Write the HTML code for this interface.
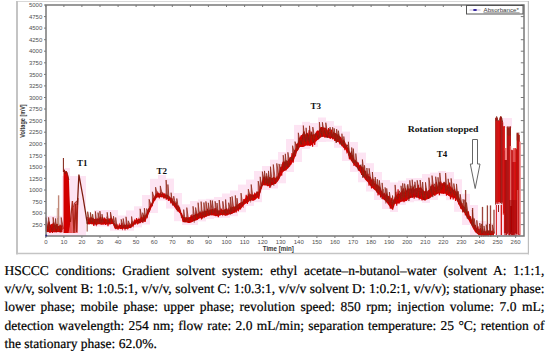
<!DOCTYPE html>
<html><head><meta charset="utf-8"><style>
html,body{margin:0;padding:0;background:#fff;width:550px;height:356px;overflow:hidden}
svg{position:absolute;left:0;top:0}
.al{font-family:"Liberation Sans",sans-serif;font-size:6px;fill:#505050}
.an{font-family:"Liberation Serif",serif;font-size:9px;font-weight:bold;fill:#111}
.ln{white-space:nowrap;text-align:justify;text-align-last:justify;height:18.2px}
.lst{text-align:left;text-align-last:left}
.cap{position:absolute;left:4.4px;top:262px;width:540px;font-family:"Liberation Serif",serif;font-size:13.5px;line-height:18.2px;color:#000;text-align:justify;text-rendering:geometricPrecision;-webkit-text-stroke:0.2px #000}
</style></head><body>
<svg width="550" height="258" viewBox="0 0 550 258">
<defs><filter id="bl" x="0" y="0" width="550" height="258" filterUnits="userSpaceOnUse"><feGaussianBlur stdDeviation="0.3"/></filter></defs>
<line x1="16" y1="1.5" x2="529" y2="1.5" stroke="#d8d8d8" stroke-width="1"/>
<line x1="17" y1="1" x2="17" y2="255" stroke="#c4c4c4" stroke-width="2"/>
<line x1="528.4" y1="1" x2="528.4" y2="255" stroke="#bdbdbd" stroke-width="1.2"/>
<line x1="16" y1="253.4" x2="529" y2="253.4" stroke="#c4c4c4" stroke-width="1.3"/>
<line x1="16" y1="254.6" x2="529" y2="254.6" stroke="#ebebeb" stroke-width="0.8"/>
<g filter="url(#bl)"><g fill="#fde4f3"><rect x="46" y="216.0" width="8" height="18.3"/><rect x="54" y="216.0" width="8" height="18.3"/><rect x="94" y="210.0" width="8" height="16.5"/><rect x="102" y="210.0" width="8" height="16.5"/><rect x="110" y="210.0" width="8" height="20.7"/><rect x="118" y="215.5" width="8" height="15.2"/><rect x="126" y="210.4" width="8" height="20.3"/><rect x="134" y="206.3" width="8" height="21.1"/><rect x="142" y="195.0" width="8" height="29.5"/><rect x="150" y="178.8" width="8" height="34.2"/><rect x="158" y="175.0" width="8" height="25.6"/><rect x="166" y="178.6" width="8" height="30.0"/><rect x="174" y="193.0" width="8" height="28.2"/><rect x="182" y="204.3" width="8" height="20.7"/><rect x="190" y="201.0" width="8" height="24.0"/><rect x="198" y="199.5" width="8" height="21.9"/><rect x="206" y="198.8" width="8" height="20.2"/><rect x="214" y="197.0" width="8" height="21.0"/><rect x="222" y="193.5" width="8" height="24.3"/><rect x="230" y="190.5" width="8" height="25.7"/><rect x="238" y="184.6" width="8" height="27.7"/><rect x="246" y="179.6" width="8" height="26.3"/><rect x="254" y="171.0" width="8" height="31.2"/><rect x="262" y="166.0" width="8" height="24.0"/><rect x="270" y="159.7" width="8" height="28.8"/><rect x="278" y="152.0" width="8" height="31.3"/><rect x="286" y="139.0" width="8" height="33.0"/><rect x="294" y="124.9" width="8" height="37.1"/><rect x="302" y="121.8" width="8" height="27.1"/><rect x="310" y="123.0" width="8" height="23.9"/><rect x="318" y="117.5" width="8" height="24.5"/><rect x="326" y="121.1" width="8" height="20.6"/><rect x="334" y="125.7" width="8" height="22.1"/><rect x="342" y="131.6" width="8" height="29.4"/><rect x="350" y="142.0" width="8" height="29.9"/><rect x="358" y="152.6" width="8" height="29.7"/><rect x="366" y="163.2" width="8" height="28.3"/><rect x="374" y="172.0" width="8" height="28.0"/><rect x="382" y="180.0" width="8" height="29.0"/><rect x="390" y="182.4" width="8" height="29.6"/><rect x="398" y="180.6" width="8" height="24.3"/><rect x="406" y="178.2" width="8" height="24.1"/><rect x="414" y="178.0" width="8" height="23.2"/><rect x="422" y="174.0" width="8" height="28.9"/><rect x="430" y="172.6" width="8" height="27.4"/><rect x="438" y="171.0" width="8" height="25.2"/><rect x="446" y="172.0" width="8" height="28.2"/><rect x="454" y="179.3" width="8" height="32.5"/><rect x="462" y="193.8" width="8" height="31.2"/><rect x="470" y="205.0" width="8" height="31.0"/><rect x="478" y="221.0" width="8" height="15.0"/><rect x="486" y="223.0" width="8" height="13.0"/></g>
<rect x="48" y="215.8" width="15" height="20.2" fill="#fde4f3"/>
<rect x="62" y="176" width="24" height="60" fill="#fde4f3"/>
<rect x="64" y="168" width="6" height="10" fill="#fde4f3"/>
<polygon points="46.0,226.4 46.5,226.7 47.0,225.8 47.5,225.4 48.0,225.4 48.5,225.3 49.0,225.3 49.5,225.4 50.0,225.4 50.5,224.5 51.0,224.4 51.5,224.0 52.0,223.8 52.5,223.5 53.0,223.6 53.5,224.0 54.0,224.3 54.5,224.5 55.0,225.2 55.5,225.0 56.0,224.6 56.5,223.8 57.0,223.6 57.5,223.7 58.0,223.8 58.5,223.3 59.0,224.4 59.5,225.5 60.0,224.8 60.5,225.7 61.0,226.1 61.5,225.7 62.0,224.9 62.5,225.7 62.5,232.1 62.0,232.4 61.5,232.2 61.0,232.4 60.5,232.3 60.0,232.1 59.5,232.2 59.0,232.2 58.5,232.0 58.0,232.3 57.5,232.1 57.0,232.3 56.5,232.5 56.0,232.4 55.5,232.3 55.0,232.3 54.5,232.4 54.0,232.3 53.5,231.9 53.0,232.0 52.5,232.2 52.0,232.3 51.5,232.2 51.0,232.2 50.5,232.3 50.0,232.6 49.5,232.4 49.0,232.2 48.5,232.1 48.0,232.0 47.5,232.1 47.0,232.3 46.5,232.1 46.0,232.0" fill="#d20000"/>
<polygon points="87.5,219.1 88.0,218.5 88.5,219.3 89.0,219.5 89.5,219.3 90.0,218.7 90.5,218.5 91.0,217.7 91.5,217.3 92.0,217.7 92.5,218.3 93.0,218.3 93.5,218.3 94.0,219.1 94.5,219.0 95.0,218.4 95.5,218.5 96.0,219.0 96.5,218.8 97.0,218.8 97.5,218.8 98.0,218.6 98.5,218.9 99.0,218.1 99.5,218.2 100.0,218.6 100.5,218.7 101.0,218.5 101.5,219.4 102.0,219.5 102.5,219.4 103.0,219.4 103.5,219.1 104.0,218.4 104.5,218.6 105.0,218.1 105.5,218.4 106.0,219.0 106.5,219.6 107.0,219.8 107.5,219.9 108.0,220.0 108.5,219.7 109.0,219.3 109.5,218.7 110.0,218.6 110.5,218.3 111.0,218.0 111.5,218.5 112.0,219.1 112.5,219.3 113.0,219.7 113.5,221.6 114.0,222.9 114.5,224.5 115.0,224.6 115.5,224.9 116.0,224.9 116.5,225.3 117.0,225.6 117.5,225.6 118.0,225.4 118.5,225.7 119.0,225.4 119.5,225.4 120.0,225.1 120.5,225.0 121.0,225.0 121.5,225.2 122.0,225.0 122.5,225.4 123.0,225.5 123.5,225.4 124.0,224.9 124.5,225.1 125.0,224.7 125.5,224.7 126.0,224.6 126.5,225.1 127.0,225.2 127.5,225.5 128.0,225.3 128.5,225.2 129.0,224.9 129.5,224.8 130.0,224.3 130.5,224.4 131.0,224.4 131.5,223.9 132.0,223.6 132.5,223.6 133.0,223.0 133.5,222.3 134.0,221.5 134.5,221.0 135.0,220.5 135.5,220.1 136.0,219.8 136.5,220.1 137.0,219.9 137.5,219.2 138.0,219.3 138.5,219.1 139.0,219.0 139.5,218.6 140.0,218.9 140.5,218.8 141.0,218.6 141.5,218.5 142.0,218.0 142.5,217.5 143.0,217.1 143.5,216.9 144.0,216.4 144.5,216.7 145.0,216.9 145.5,215.6 146.0,214.4 146.5,213.4 147.0,212.0 147.5,210.6 148.0,209.8 148.5,208.6 149.0,207.5 149.5,206.5 150.0,205.7 150.5,204.6 151.0,203.8 151.5,202.9 152.0,201.9 152.5,201.0 153.0,199.6 153.5,198.3 154.0,196.9 154.5,196.1 155.0,195.0 155.5,195.0 156.0,194.4 156.5,193.6 157.0,193.2 157.5,193.1 158.0,192.9 158.5,192.8 159.0,193.1 159.5,193.2 160.0,193.7 160.5,193.5 161.0,193.8 161.5,193.9 162.0,193.6 162.5,193.2 163.0,193.4 163.5,193.3 164.0,193.6 164.5,194.1 165.0,194.5 165.5,194.7 166.0,195.2 166.5,194.9 167.0,194.6 167.5,194.9 168.0,195.4 168.5,195.2 169.0,196.0 169.5,196.9 170.0,197.1 170.5,197.5 171.0,198.0 171.5,198.3 172.0,198.8 172.5,199.3 173.0,200.3 173.5,201.4 174.0,202.2 174.5,202.1 175.0,203.2 175.5,203.4 176.0,203.6 176.5,204.0 177.0,205.3 177.5,205.5 178.0,206.0 178.5,206.7 179.0,207.2 179.5,207.6 180.0,208.2 180.5,209.5 181.0,211.1 181.5,213.0 182.0,213.8 182.5,215.2 183.0,216.5 183.5,216.8 184.0,216.9 184.5,217.3 185.0,217.2 185.5,217.3 186.0,217.5 186.5,217.1 187.0,217.3 187.5,217.4 188.0,217.8 188.5,217.5 189.0,217.8 189.5,217.4 190.0,217.6 190.5,217.0 191.0,216.7 191.5,216.0 192.0,215.9 192.5,215.4 193.0,215.3 193.5,214.9 194.0,215.0 194.5,215.1 195.0,214.3 195.5,213.8 196.0,213.7 196.5,213.6 197.0,213.6 197.5,213.9 198.0,213.4 198.5,213.5 199.0,212.7 199.5,212.1 200.0,212.0 200.5,212.6 201.0,212.2 201.5,212.6 202.0,212.3 202.5,211.8 203.0,211.9 203.5,211.5 204.0,210.8 204.5,211.1 205.0,210.7 205.5,210.6 206.0,211.0 206.5,211.0 207.0,210.3 207.5,211.0 208.0,210.9 208.5,210.3 209.0,210.2 209.5,210.4 210.0,210.0 210.5,209.3 211.0,209.2 211.5,209.2 212.0,209.4 212.5,209.0 213.0,208.9 213.5,209.6 214.0,209.8 214.5,209.7 215.0,209.7 215.5,210.2 216.0,210.4 216.5,210.7 217.0,210.7 217.5,210.8 218.0,210.9 218.5,210.2 219.0,209.9 219.5,210.2 220.0,210.9 220.5,210.2 221.0,210.3 221.5,210.5 222.0,209.8 222.5,209.7 223.0,210.0 223.5,209.9 224.0,209.6 224.5,209.5 225.0,209.1 225.5,209.1 226.0,209.0 226.5,208.5 227.0,209.0 227.5,209.6 228.0,210.0 228.5,209.8 229.0,209.9 229.5,209.4 230.0,209.0 230.5,208.3 231.0,208.7 231.5,208.4 232.0,207.9 232.5,207.7 233.0,207.1 233.5,206.5 234.0,206.3 234.5,206.8 235.0,206.3 235.5,206.5 236.0,205.8 236.5,205.6 237.0,204.7 237.5,204.7 238.0,204.3 238.5,203.9 239.0,203.4 239.5,203.2 240.0,203.0 240.5,202.3 241.0,202.6 241.5,202.6 242.0,202.1 242.5,201.7 243.0,201.3 243.5,200.2 244.0,199.5 244.5,199.0 245.0,198.6 245.5,198.4 246.0,197.9 246.5,197.5 247.0,196.7 247.5,196.0 248.0,194.9 248.5,194.4 249.0,194.2 249.5,194.6 250.0,193.7 250.5,193.8 251.0,194.7 251.5,194.4 252.0,194.6 252.5,194.5 253.0,195.1 253.5,194.4 254.0,194.0 254.5,193.6 255.0,194.1 255.5,193.3 256.0,192.9 256.5,192.3 257.0,192.3 257.5,191.8 258.0,191.8 258.5,191.4 259.0,191.7 259.5,189.9 260.0,188.3 260.5,186.6 261.0,185.5 261.5,183.5 262.0,181.6 262.5,179.6 263.0,177.7 263.5,177.0 264.0,177.5 264.5,177.8 265.0,178.6 265.5,178.4 266.0,178.8 266.5,178.8 267.0,179.0 267.5,178.6 268.0,179.1 268.5,178.6 269.0,177.7 269.5,177.1 270.0,176.9 270.5,176.9 271.0,177.9 271.5,177.9 272.0,178.1 272.5,178.0 273.0,177.7 273.5,177.1 274.0,177.3 274.5,177.5 275.0,177.3 275.5,178.1 276.0,178.2 276.5,177.9 277.0,177.1 277.5,176.8 278.0,175.4 278.5,175.2 279.0,173.3 279.5,171.9 280.0,170.0 280.5,168.8 281.0,167.1 281.5,165.8 282.0,163.7 282.5,163.1 283.0,162.3 283.5,161.2 284.0,161.3 284.5,162.1 285.0,162.3 285.5,162.2 286.0,162.5 286.5,161.8 287.0,160.9 287.5,160.9 288.0,160.1 288.5,159.3 289.0,159.3 289.5,159.0 290.0,158.4 290.5,158.1 291.0,158.4 291.5,156.8 292.0,155.0 292.5,154.5 293.0,153.8 293.5,152.0 294.0,152.0 294.5,151.8 295.0,150.1 295.5,148.7 296.0,147.5 296.5,145.6 297.0,144.1 297.5,143.0 298.0,142.7 298.5,141.6 299.0,140.8 299.5,138.5 300.0,137.3 300.5,135.5 301.0,135.3 301.5,135.1 302.0,135.1 302.5,134.1 303.0,133.6 303.5,134.4 304.0,133.5 304.5,133.5 305.0,133.7 305.5,134.7 306.0,133.0 306.5,133.3 307.0,132.6 307.5,132.9 308.0,133.7 308.5,134.6 309.0,135.6 309.5,135.8 310.0,134.9 310.5,134.3 311.0,134.1 311.5,133.7 312.0,134.0 312.5,134.7 313.0,134.7 313.5,135.0 314.0,134.3 314.5,134.2 315.0,134.2 315.5,133.1 316.0,131.6 316.5,131.4 317.0,130.6 317.5,130.2 318.0,130.8 318.5,130.7 319.0,130.0 319.5,129.6 320.0,128.5 320.5,127.1 321.0,126.9 321.5,127.1 322.0,126.9 322.5,126.9 323.0,127.9 323.5,127.6 324.0,127.3 324.5,127.5 325.0,128.1 325.5,127.5 326.0,128.2 326.5,128.5 327.0,129.3 327.5,129.8 328.0,131.0 328.5,131.5 329.0,132.2 329.5,132.2 330.0,132.2 330.5,132.3 331.0,132.5 331.5,133.0 332.0,133.3 332.5,133.8 333.0,133.4 333.5,133.9 334.0,133.6 334.5,133.4 335.0,133.0 335.5,133.3 336.0,133.1 336.5,133.7 337.0,134.2 337.5,134.6 338.0,135.6 338.5,136.2 339.0,135.9 339.5,136.0 340.0,136.4 340.5,136.5 341.0,137.3 341.5,138.8 342.0,139.9 342.5,140.5 343.0,141.1 343.5,141.1 344.0,140.9 344.5,140.8 345.0,141.6 345.5,143.0 346.0,144.3 346.5,145.0 347.0,146.5 347.5,147.0 348.0,147.8 348.5,148.4 349.0,150.3 349.5,151.5 350.0,152.4 350.5,152.7 351.0,154.0 351.5,154.2 352.0,154.6 352.5,155.7 353.0,157.0 353.5,157.8 354.0,158.6 354.5,160.0 355.0,160.9 355.5,160.8 356.0,161.2 356.5,161.7 357.0,161.3 357.5,162.3 358.0,162.8 358.5,163.1 359.0,163.7 359.5,165.3 360.0,165.1 360.5,166.0 361.0,166.2 361.5,166.5 362.0,166.7 362.5,167.3 363.0,168.6 363.5,169.1 364.0,169.9 364.5,170.1 365.0,171.5 365.5,172.3 366.0,173.7 366.5,174.7 367.0,175.5 367.5,175.1 368.0,175.8 368.5,176.0 369.0,175.9 369.5,176.3 370.0,176.8 370.5,177.2 371.0,178.3 371.5,179.0 372.0,180.3 372.5,181.1 373.0,181.6 373.5,182.0 374.0,183.1 374.5,183.6 375.0,184.2 375.5,183.9 376.0,184.0 376.5,184.5 377.0,184.2 377.5,184.7 378.0,185.6 378.5,185.6 379.0,185.7 379.5,186.5 380.0,187.1 380.5,188.1 381.0,189.1 381.5,190.4 382.0,191.5 382.5,192.5 383.0,193.0 383.5,193.9 384.0,193.8 384.5,194.3 385.0,194.1 385.5,194.5 386.0,195.1 386.5,195.7 387.0,195.6 387.5,195.8 388.0,195.7 388.5,195.8 389.0,196.5 389.5,197.7 390.0,199.1 390.5,200.0 391.0,201.3 391.5,201.5 392.0,202.1 392.5,201.9 393.0,203.1 393.5,200.5 394.0,199.3 394.5,197.4 395.0,196.3 395.5,196.3 396.0,196.3 396.5,195.6 397.0,194.4 397.5,194.0 398.0,193.9 398.5,193.0 399.0,193.5 399.5,193.9 400.0,193.6 400.5,192.0 401.0,192.0 401.5,190.6 402.0,190.6 402.5,191.2 403.0,192.5 403.5,192.7 404.0,192.8 404.5,191.8 405.0,191.2 405.5,190.4 406.0,190.4 406.5,190.1 407.0,191.2 407.5,190.2 408.0,189.5 408.5,188.6 409.0,188.8 409.5,188.6 410.0,188.3 410.5,188.7 411.0,189.3 411.5,188.6 412.0,187.2 412.5,187.7 413.0,187.9 413.5,187.9 414.0,188.6 414.5,189.0 415.0,188.7 415.5,188.3 416.0,188.5 416.5,188.0 417.0,187.9 417.5,188.3 418.0,189.0 418.5,188.1 419.0,187.7 419.5,187.6 420.0,187.6 420.5,187.3 421.0,187.5 421.5,188.0 422.0,189.0 422.5,189.3 423.0,189.7 423.5,190.8 424.0,190.8 424.5,190.9 425.0,191.4 425.5,191.5 426.0,190.6 426.5,191.6 427.0,191.5 427.5,191.4 428.0,189.9 428.5,190.2 429.0,189.9 429.5,189.3 430.0,187.7 430.5,187.4 431.0,186.3 431.5,184.8 432.0,184.1 432.5,184.7 433.0,184.3 433.5,185.1 434.0,185.9 434.5,186.7 435.0,186.8 435.5,187.5 436.0,187.6 436.5,187.8 437.0,187.3 437.5,187.4 438.0,186.3 438.5,184.8 439.0,183.1 439.5,182.3 440.0,181.1 440.5,181.6 441.0,182.5 441.5,183.5 442.0,183.3 442.5,183.2 443.0,183.3 443.5,182.7 444.0,181.5 444.5,182.4 445.0,182.2 445.5,182.8 446.0,183.4 446.5,185.2 447.0,186.2 447.5,186.0 448.0,186.5 448.5,187.3 449.0,186.5 449.5,185.5 450.0,186.6 450.5,186.3 451.0,186.7 451.5,188.0 452.0,188.8 452.5,188.8 453.0,189.4 453.5,189.7 454.0,189.9 454.5,190.5 455.0,190.8 455.5,191.0 456.0,191.5 456.5,192.4 457.0,192.9 457.5,194.2 458.0,195.3 458.5,196.3 459.0,197.0 459.5,198.4 460.0,199.3 460.5,200.3 461.0,201.4 461.5,202.6 462.0,203.5 462.5,205.1 463.0,205.4 463.5,205.5 464.0,206.5 464.5,206.9 465.0,207.4 465.5,208.6 466.0,209.1 466.5,209.4 467.0,210.8 467.5,211.2 468.0,212.3 468.5,213.2 469.0,214.0 469.5,215.4 470.0,216.4 470.5,217.2 471.0,218.1 471.5,219.0 472.0,219.9 472.5,221.0 473.0,222.0 473.5,222.8 474.0,223.8 474.5,224.5 475.0,225.1 475.5,225.8 476.0,227.3 476.5,228.2 477.0,228.7 477.5,228.9 478.0,229.0 478.5,229.0 479.0,228.9 479.5,229.2 480.0,230.1 480.5,231.0 481.0,230.7 481.5,231.3 482.0,231.3 482.5,231.5 483.0,230.9 483.5,231.4 484.0,231.0 484.5,231.3 485.0,231.5 485.5,231.5 486.0,231.3 486.5,231.2 487.0,230.8 487.5,230.3 488.0,230.6 488.5,230.4 489.0,230.4 489.5,230.4 490.0,230.3 490.5,230.1 491.0,230.7 491.5,231.2 492.0,231.1 492.5,231.0 493.0,231.4 493.5,231.4 494.0,231.3 494.0,235.4 493.5,235.3 493.0,235.0 492.5,235.0 492.0,234.9 491.5,235.0 491.0,235.2 490.5,235.4 490.0,235.4 489.5,235.3 489.0,235.4 488.5,235.8 488.0,235.9 487.5,235.9 487.0,235.8 486.5,236.0 486.0,236.1 485.5,236.2 485.0,236.0 484.5,236.0 484.0,236.0 483.5,235.9 483.0,235.7 482.5,235.8 482.0,235.8 481.5,235.9 481.0,235.7 480.5,235.3 480.0,235.4 479.5,235.1 479.0,235.0 478.5,234.6 478.0,234.5 477.5,234.1 477.0,233.7 476.5,232.9 476.0,232.7 475.5,232.4 475.0,232.2 474.5,231.1 474.0,230.1 473.5,229.2 473.0,228.5 472.5,227.8 472.0,226.5 471.5,225.3 471.0,224.6 470.5,223.8 470.0,222.9 469.5,221.9 469.0,220.8 468.5,220.0 468.0,219.2 467.5,218.4 467.0,217.2 466.5,216.4 466.0,215.4 465.5,214.4 465.0,213.5 464.5,212.7 464.0,212.0 463.5,211.5 463.0,210.9 462.5,210.4 462.0,209.9 461.5,209.5 461.0,208.8 460.5,207.9 460.0,207.0 459.5,205.9 459.0,205.0 458.5,203.8 458.0,202.6 457.5,201.9 457.0,201.0 456.5,200.0 456.0,199.1 455.5,198.8 455.0,198.5 454.5,198.2 454.0,197.8 453.5,197.9 453.0,197.6 452.5,197.5 452.0,197.5 451.5,197.5 451.0,197.2 450.5,196.8 450.0,196.5 449.5,196.5 449.0,196.1 448.5,195.9 448.0,195.5 447.5,195.1 447.0,194.9 446.5,194.7 446.0,194.1 445.5,193.9 445.0,193.3 444.5,193.6 444.0,193.8 443.5,194.0 443.0,193.8 442.5,193.8 442.0,193.7 441.5,193.7 441.0,193.4 440.5,193.4 440.0,193.1 439.5,193.3 439.0,193.6 438.5,193.6 438.0,193.8 437.5,193.9 437.0,194.3 436.5,194.7 436.0,194.7 435.5,194.7 435.0,194.7 434.5,194.9 434.0,195.2 433.5,195.3 433.0,195.4 432.5,195.7 432.0,196.4 431.5,196.8 431.0,197.4 430.5,197.7 430.0,198.2 429.5,198.5 429.0,198.7 428.5,199.0 428.0,199.1 427.5,199.2 427.0,199.6 426.5,199.6 426.0,200.2 425.5,200.4 425.0,200.5 424.5,200.4 424.0,200.3 423.5,200.0 423.0,200.0 422.5,199.6 422.0,199.7 421.5,199.4 421.0,199.1 420.5,198.9 420.0,198.7 419.5,198.3 419.0,198.1 418.5,198.0 418.0,198.0 417.5,197.7 417.0,197.4 416.5,197.3 416.0,197.3 415.5,197.3 415.0,197.0 414.5,197.0 414.0,197.2 413.5,197.4 413.0,197.5 412.5,197.7 412.0,197.7 411.5,197.8 411.0,198.0 410.5,198.0 410.0,198.5 409.5,198.7 409.0,198.8 408.5,199.3 408.0,199.5 407.5,199.7 407.0,200.3 406.5,200.4 406.0,200.7 405.5,201.2 405.0,201.3 404.5,201.4 404.0,201.4 403.5,201.5 403.0,201.5 402.5,201.6 402.0,201.7 401.5,201.7 401.0,201.9 400.5,202.2 400.0,202.4 399.5,202.9 399.0,203.0 398.5,203.2 398.0,203.5 397.5,203.5 397.0,203.7 396.5,203.6 396.0,203.7 395.5,203.8 395.0,203.7 394.5,205.2 394.0,207.0 393.5,208.6 393.0,210.2 392.5,209.7 392.0,209.3 391.5,209.0 391.0,208.3 390.5,207.6 390.0,207.0 389.5,206.3 389.0,205.7 388.5,205.1 388.0,204.4 387.5,203.8 387.0,203.0 386.5,202.5 386.0,202.1 385.5,201.4 385.0,200.5 384.5,200.3 384.0,199.8 383.5,199.4 383.0,198.7 382.5,198.0 382.0,197.4 381.5,197.1 381.0,196.2 380.5,196.0 380.0,195.4 379.5,194.8 379.0,194.5 378.5,194.0 378.0,193.3 377.5,193.0 377.0,192.4 376.5,192.0 376.0,191.4 375.5,190.8 375.0,190.3 374.5,190.0 374.0,189.5 373.5,188.9 373.0,188.5 372.5,188.1 372.0,187.7 371.5,187.1 371.0,186.6 370.5,185.9 370.0,185.5 369.5,184.7 369.0,183.9 368.5,183.1 368.0,182.6 367.5,181.9 367.0,181.6 366.5,180.9 366.0,180.4 365.5,179.9 365.0,179.5 364.5,178.6 364.0,178.1 363.5,177.2 363.0,176.6 362.5,175.8 362.0,175.1 361.5,174.5 361.0,173.8 360.5,172.9 360.0,172.3 359.5,171.3 359.0,170.7 358.5,170.0 358.0,169.1 357.5,168.4 357.0,167.8 356.5,167.3 356.0,167.1 355.5,166.6 355.0,165.8 354.5,165.3 354.0,164.6 353.5,164.1 353.0,163.4 352.5,162.6 352.0,161.9 351.5,161.5 351.0,160.7 350.5,160.0 350.0,159.1 349.5,157.8 349.0,156.6 348.5,155.5 348.0,154.1 347.5,153.1 347.0,152.2 346.5,151.3 346.0,150.4 345.5,149.6 345.0,148.8 344.5,148.6 344.0,148.3 343.5,147.9 343.0,147.4 342.5,146.7 342.0,146.0 341.5,145.5 341.0,144.8 340.5,143.9 340.0,143.2 339.5,142.8 339.0,142.5 338.5,142.3 338.0,142.0 337.5,142.0 337.0,141.9 336.5,141.9 336.0,141.5 335.5,141.1 335.0,140.5 334.5,140.0 334.0,139.7 333.5,139.1 333.0,138.4 332.5,138.2 332.0,138.3 331.5,138.2 331.0,138.3 330.5,138.2 330.0,138.1 329.5,137.9 329.0,138.0 328.5,137.8 328.0,137.9 327.5,137.4 327.0,137.3 326.5,137.1 326.0,137.3 325.5,137.0 325.0,136.9 324.5,136.9 324.0,137.1 323.5,136.8 323.0,136.9 322.5,136.7 322.0,136.5 321.5,137.1 321.0,137.6 320.5,137.7 320.0,138.0 319.5,138.4 319.0,138.9 318.5,139.5 318.0,139.9 317.5,140.0 317.0,140.6 316.5,141.2 316.0,141.6 315.5,141.8 315.0,142.1 314.5,142.4 314.0,143.0 313.5,143.5 313.0,143.5 312.5,144.1 312.0,144.8 311.5,144.9 311.0,145.3 310.5,145.5 310.0,145.6 309.5,145.8 309.0,145.8 308.5,145.6 308.0,145.8 307.5,145.7 307.0,145.6 306.5,145.5 306.0,145.8 305.5,145.8 305.0,146.2 304.5,146.4 304.0,146.6 303.5,146.9 303.0,147.1 302.5,147.0 302.0,147.0 301.5,146.9 301.0,146.9 300.5,147.0 300.0,147.1 299.5,147.7 299.0,148.5 298.5,149.4 298.0,150.4 297.5,151.0 297.0,151.6 296.5,153.0 296.0,154.5 295.5,155.9 295.0,157.1 294.5,158.3 294.0,159.8 293.5,160.7 293.0,161.5 292.5,162.3 292.0,163.1 291.5,163.9 291.0,164.6 290.5,165.5 290.0,166.4 289.5,166.7 289.0,167.2 288.5,167.9 288.0,168.4 287.5,168.9 287.0,169.3 286.5,169.8 286.0,170.2 285.5,170.4 285.0,170.5 284.5,170.7 284.0,171.3 283.5,171.7 283.0,172.0 282.5,172.4 282.0,173.0 281.5,174.1 281.0,175.4 280.5,176.5 280.0,177.6 279.5,178.6 279.0,179.7 278.5,180.4 278.0,181.2 277.5,181.7 277.0,182.2 276.5,183.1 276.0,183.8 275.5,184.0 275.0,183.9 274.5,184.1 274.0,184.5 273.5,184.7 273.0,184.7 272.5,184.9 272.0,185.1 271.5,185.4 271.0,185.7 270.5,185.8 270.0,186.0 269.5,186.0 269.0,186.1 268.5,186.2 268.0,186.0 267.5,185.9 267.0,185.6 266.5,185.8 266.0,185.5 265.5,185.4 265.0,185.4 264.5,185.4 264.0,185.2 263.5,185.4 263.0,185.0 262.5,186.6 262.0,188.1 261.5,189.3 261.0,190.9 260.5,192.3 260.0,193.8 259.5,195.4 259.0,196.7 258.5,197.2 258.0,197.6 257.5,198.0 257.0,198.4 256.5,198.6 256.0,199.1 255.5,199.8 255.0,200.0 254.5,200.3 254.0,200.4 253.5,200.7 253.0,200.9 252.5,200.7 252.0,200.5 251.5,200.4 251.0,200.2 250.5,200.5 250.0,200.4 249.5,200.8 249.0,201.4 248.5,201.9 248.0,202.1 247.5,202.6 247.0,202.8 246.5,203.2 246.0,203.4 245.5,203.6 245.0,203.9 244.5,204.5 244.0,205.2 243.5,205.5 243.0,206.1 242.5,206.9 242.0,207.4 241.5,207.8 241.0,208.4 240.5,208.9 240.0,209.4 239.5,209.6 239.0,209.6 238.5,209.8 238.0,210.2 237.5,210.5 237.0,210.8 236.5,211.2 236.0,211.5 235.5,212.0 235.0,212.4 234.5,212.7 234.0,212.8 233.5,213.0 233.0,213.3 232.5,213.7 232.0,213.9 231.5,214.0 231.0,213.9 230.5,214.0 230.0,214.2 229.5,214.3 229.0,214.4 228.5,214.7 228.0,215.1 227.5,215.6 227.0,215.5 226.5,215.5 226.0,215.7 225.5,215.8 225.0,215.7 224.5,215.4 224.0,215.1 223.5,215.1 223.0,215.2 222.5,214.9 222.0,215.0 221.5,214.9 221.0,215.0 220.5,215.4 220.0,215.8 219.5,215.6 219.0,215.8 218.5,215.9 218.0,216.2 217.5,216.3 217.0,216.2 216.5,216.0 216.0,216.3 215.5,216.3 215.0,215.9 214.5,215.8 214.0,215.7 213.5,215.6 213.0,215.5 212.5,215.4 212.0,215.0 211.5,215.5 211.0,215.4 210.5,215.3 210.0,215.2 209.5,215.5 209.0,215.5 208.5,215.7 208.0,215.8 207.5,216.1 207.0,216.5 206.5,216.8 206.0,216.8 205.5,217.1 205.0,217.3 204.5,217.4 204.0,217.5 203.5,217.6 203.0,217.8 202.5,218.0 202.0,217.9 201.5,218.0 201.0,218.0 200.5,218.2 200.0,218.2 199.5,218.5 199.0,218.7 198.5,219.1 198.0,219.5 197.5,220.1 197.0,220.1 196.5,220.2 196.0,220.4 195.5,220.5 195.0,220.6 194.5,220.8 194.0,221.0 193.5,221.5 193.0,221.6 192.5,221.9 192.0,221.9 191.5,222.5 191.0,222.6 190.5,222.8 190.0,222.9 189.5,223.1 189.0,222.9 188.5,223.0 188.0,222.9 187.5,222.7 187.0,222.5 186.5,222.6 186.0,222.3 185.5,222.5 185.0,222.2 184.5,222.2 184.0,222.3 183.5,222.3 183.0,222.0 182.5,220.9 182.0,219.3 181.5,218.1 181.0,216.5 180.5,215.1 180.0,213.6 179.5,213.1 179.0,212.5 178.5,212.1 178.0,211.6 177.5,211.2 177.0,210.5 176.5,210.0 176.0,209.6 175.5,208.7 175.0,208.1 174.5,207.2 174.0,206.4 173.5,205.5 173.0,204.9 172.5,203.9 172.0,203.5 171.5,202.6 171.0,202.2 170.5,201.6 170.0,201.0 169.5,200.5 169.0,200.2 168.5,199.7 168.0,199.7 167.5,199.1 167.0,198.8 166.5,198.7 166.0,198.4 165.5,198.1 165.0,198.0 164.5,197.8 164.0,197.8 163.5,197.5 163.0,197.4 162.5,197.3 162.0,197.3 161.5,197.2 161.0,197.1 160.5,197.2 160.0,197.3 159.5,197.5 159.0,197.4 158.5,197.3 158.0,197.4 157.5,197.4 157.0,197.4 156.5,198.2 156.0,198.8 155.5,199.5 155.0,200.5 154.5,201.2 154.0,201.9 153.5,203.1 153.0,204.3 152.5,205.4 152.0,206.5 151.5,207.5 151.0,208.6 150.5,210.1 150.0,211.1 149.5,212.0 149.0,212.9 148.5,214.1 148.0,215.0 147.5,216.1 147.0,217.1 146.5,218.5 146.0,219.5 145.5,220.6 145.0,221.4 144.5,221.8 144.0,221.8 143.5,221.6 143.0,221.6 142.5,221.6 142.0,221.9 141.5,222.3 141.0,222.6 140.5,223.2 140.0,223.3 139.5,223.3 139.0,223.4 138.5,223.7 138.0,223.6 137.5,223.7 137.0,223.4 136.5,223.5 136.0,223.6 135.5,224.1 135.0,224.2 134.5,224.7 134.0,225.1 133.5,225.6 133.0,226.3 132.5,226.6 132.0,227.0 131.5,227.6 131.0,228.0 130.5,227.9 130.0,228.0 129.5,228.1 129.0,228.3 128.5,228.6 128.0,228.7 127.5,228.7 127.0,228.8 126.5,229.0 126.0,228.8 125.5,228.9 125.0,228.6 124.5,228.4 124.0,228.5 123.5,228.7 123.0,228.5 122.5,228.6 122.0,228.8 121.5,229.1 121.0,229.2 120.5,229.1 120.0,228.8 119.5,228.7 119.0,228.8 118.5,228.8 118.0,228.6 117.5,228.7 117.0,228.7 116.5,228.7 116.0,228.7 115.5,228.6 115.0,228.6 114.5,228.6 114.0,226.9 113.5,225.5 113.0,224.0 112.5,224.0 112.0,224.2 111.5,224.0 111.0,223.9 110.5,224.0 110.0,224.0 109.5,224.4 109.0,224.5 108.5,224.4 108.0,224.3 107.5,224.3 107.0,224.4 106.5,224.5 106.0,224.2 105.5,224.3 105.0,224.3 104.5,224.3 104.0,224.5 103.5,224.7 103.0,224.7 102.5,224.8 102.0,224.5 101.5,224.3 101.0,224.5 100.5,224.3 100.0,223.9 99.5,224.0 99.0,223.9 98.5,224.2 98.0,224.4 97.5,224.4 97.0,224.4 96.5,224.6 96.0,224.3 95.5,224.5 95.0,224.5 94.5,224.6 94.0,224.3 93.5,224.2 93.0,224.2 92.5,224.5 92.0,224.2 91.5,224.0 91.0,223.8 90.5,224.1 90.0,224.3 89.5,224.4 89.0,224.2 88.5,224.3 88.0,224.5 87.5,224.6" fill="#d20000"/>
<polyline points="46.0,225.2 47.5,229.3 49.1,221.7 50.0,233.0 51.4,224.4 52.6,232.9 53.7,222.2 54.7,229.7 55.5,226.2 57.1,231.0 58.2,222.6 59.7,231.7 60.6,225.9 62.1,229.4" fill="none" stroke="#d20000" stroke-width="1.1" opacity="1.0"/>
<polyline points="87.8,217.0 89.1,223.5 90.1,217.3 91.4,224.1 92.6,218.8 93.8,225.9 95.0,219.3 96.5,224.6 97.8,219.3 99.1,222.9 100.3,216.7 101.1,224.8 102.2,217.1 103.0,222.2 104.3,217.5 105.5,224.8 107.0,218.9 108.0,226.1 108.9,218.4 110.2,223.2 111.7,218.5 113.1,223.0 114.6,224.0 115.9,229.1 116.9,223.9 118.0,229.7 119.3,224.5 120.6,228.8 121.6,223.4 122.5,228.7 123.7,225.8 125.0,229.4 126.6,224.5 127.8,228.4 128.9,224.8 130.1,226.7 131.7,222.6 133.1,226.0 134.4,220.5 135.2,223.1 136.6,218.2 137.5,224.4 138.9,219.0 140.0,221.6 141.4,216.6 142.8,222.6 143.8,215.1 145.1,222.0 146.3,215.1 147.3,217.0 148.5,209.5 149.5,210.9 150.8,204.8 152.3,205.7 153.5,198.6 154.8,199.8 155.8,195.0 156.9,196.1 157.8,192.6 159.2,197.4 160.4,193.5 161.4,196.4 162.8,193.4 164.0,198.6 164.8,193.3 166.3,199.6 167.3,195.6 168.5,201.0 169.5,196.7 170.9,203.4 171.9,198.0 172.8,205.3 173.7,201.4 174.6,205.8 176.2,202.9 177.6,209.9 178.6,205.7 180.1,212.7 181.7,213.8 183.0,220.7 184.4,217.8 185.7,220.8 187.0,218.4 188.2,220.9 189.2,217.2 190.0,220.6 191.1,215.0 192.3,219.8 193.6,215.4 194.6,220.8 195.8,214.7 197.1,220.0 198.4,213.6 199.2,216.7 200.7,212.6 201.5,219.4 202.8,212.3 204.2,216.4 205.1,211.4 206.4,216.2 207.5,209.2 209.0,215.5 210.0,211.2 211.6,213.7 212.5,209.8 213.6,214.9 215.0,208.1 216.2,214.0 217.2,209.4 218.4,217.1 219.3,211.0 220.3,214.9 221.2,208.7 222.8,214.8 224.2,211.3 225.6,214.0 226.7,208.4 227.7,214.4 228.7,209.9 229.9,213.1 230.9,206.8 231.8,212.6 232.6,207.1 233.6,212.9 234.7,207.1 236.2,212.5 237.2,206.0 238.4,211.3 239.5,203.2 240.5,209.5 241.6,203.3 243.0,206.2 243.8,199.1 245.0,204.0 246.2,194.9 247.4,203.9 249.0,195.0 250.3,200.9 251.9,194.9 253.1,199.9 254.6,193.9 255.9,198.1 257.2,191.5 258.8,198.9 260.4,187.7 261.2,188.0 262.3,181.6 263.6,183.6 264.4,176.9 265.3,183.4 266.7,176.4 267.7,186.1 268.6,179.5 269.9,188.0 271.3,178.9 272.3,184.7 273.4,177.4 274.9,183.8 276.4,177.8 277.2,180.7 278.5,174.4 279.5,177.1 280.6,167.3 281.7,175.6 283.0,161.7 284.1,170.9 285.0,161.5 285.9,170.4 287.3,162.3 288.6,166.4 289.9,157.7 290.8,164.8 292.0,153.0 293.2,162.6 294.5,149.9 295.5,156.2 296.7,143.8 297.9,149.6 299.2,141.5 300.3,147.0 301.5,137.3 302.5,144.2 304.1,131.3 305.4,143.2 306.6,132.9 307.6,142.2 309.2,130.1 310.1,145.9 311.2,131.5 312.6,146.6 313.6,134.2 314.7,145.0 316.0,134.0 317.3,137.7 318.4,131.3 319.4,135.8 321.0,130.5 322.3,133.4 323.6,130.6 325.1,137.8 326.2,129.6 327.8,137.3 328.6,128.0 330.2,138.9 331.7,129.6 332.6,139.3 333.8,132.2 334.7,140.9 336.2,135.0 337.3,141.5 338.4,135.5 339.5,142.9 341.1,139.1 342.0,146.1 343.4,139.5 344.9,150.2 345.8,143.8 346.9,152.0 348.1,149.3 349.4,159.3 350.4,153.1 351.5,159.1 353.0,156.0 354.0,165.9 355.2,159.8 356.8,167.0 358.0,162.4 359.0,170.9 360.6,166.2 361.6,175.0 362.9,167.4 364.2,176.8 365.7,170.9 367.1,180.2 368.1,173.7 369.0,185.6 370.5,177.2 371.5,188.5 373.0,178.9 374.1,189.0 375.0,180.8 376.1,189.2 377.0,185.0 378.0,195.5 379.6,188.0 380.6,197.5 381.7,191.2 382.8,199.3 384.2,192.8 385.6,200.4 386.6,193.6 388.1,201.7 389.2,196.2 390.3,208.8 391.3,197.7 392.1,207.7 393.4,199.7 394.8,204.0 395.9,191.9 396.7,205.7 398.1,189.4 399.0,203.8 400.2,193.2 401.6,198.8 403.1,188.5 404.0,202.2 405.5,188.2 406.6,200.9 407.6,188.3 409.2,195.4 410.8,189.9 412.4,195.0 413.3,186.5 414.2,198.8 415.5,188.8 416.7,196.4 418.3,184.8 419.2,199.4 420.5,189.7 422.1,200.4 423.4,190.8 424.6,198.0 425.7,192.3 426.9,195.8 428.2,191.3 429.5,197.5 430.7,187.4 432.0,196.1 433.5,187.8 434.9,195.9 436.3,182.1 437.5,192.1 438.5,186.3 439.4,195.2 440.9,181.9 441.7,190.7 443.0,183.7 444.1,193.6 445.1,183.1 446.5,195.8 447.7,184.5 448.5,193.3 449.7,182.5 450.5,199.1 451.9,187.5 453.2,199.5 454.5,188.7 455.6,200.9 457.2,191.3 458.7,204.5 459.7,200.0 460.8,208.7 462.0,203.1 462.8,212.4 464.4,207.5 465.4,215.5 466.3,209.8 467.4,217.9 468.4,211.4 469.6,220.7 470.5,216.2 471.4,223.0 473.0,219.3 474.5,230.2 475.4,225.0 476.6,231.3 477.9,226.4 478.9,235.5 480.4,228.0 481.5,236.5 482.6,228.4 483.6,236.3 484.6,230.8 486.2,235.6 487.1,230.3 488.2,235.1 489.5,232.0 490.8,235.2 492.3,230.6 493.2,235.7" fill="none" stroke="#d20000" stroke-width="1.1" opacity="1.0"/>
<polyline points="46.0,222.3 47.9,231.7 49.4,223.1 52.1,231.8 54.1,223.6 56.4,231.8 58.4,224.2 60.2,232.7 62.2,224.9" fill="none" stroke="#7e1e0e" stroke-width="1.0" opacity="0.4"/>
<polyline points="87.6,224.7 89.2,218.0 91.3,222.2 92.9,217.9 95.4,225.3 98.0,219.3 100.7,222.9 102.3,216.7 104.8,222.9 106.7,216.7 109.3,222.9 111.1,218.5 113.5,223.8 115.7,224.6 117.8,228.5 120.4,225.4 123.0,228.0 124.4,224.5 125.9,228.8 127.9,225.2 130.5,228.2 132.9,221.0 135.3,224.7 137.0,219.8 139.1,223.1 140.7,218.8 142.8,222.7 145.4,215.6 147.6,215.6 149.3,208.5 152.0,204.6 153.5,198.1 155.0,199.6 156.9,192.5 159.3,197.2 162.0,191.9 164.0,197.8 166.4,193.9 168.1,199.2 170.3,198.2 172.6,205.5 175.2,201.3 177.3,211.5 179.7,207.3 181.4,218.0 183.2,215.1 184.9,222.3 187.2,218.4 189.5,222.4 192.1,214.0 194.3,222.7 196.2,211.8 197.7,217.0 200.2,210.9 202.7,218.8 204.2,209.6 205.9,215.5 207.4,208.7 209.2,215.4 211.4,210.9 212.9,213.5 215.6,208.2 217.8,214.6 220.4,211.2 222.6,213.8 224.5,210.3 226.7,214.2 228.7,207.7 230.6,214.6 232.6,206.9 234.2,212.5 236.2,204.3 238.7,208.7 240.2,203.3 242.6,205.1 244.5,200.6 246.6,202.5 248.2,193.7 250.4,202.4 252.8,195.6 254.7,198.0 256.6,191.6 258.1,195.4 260.8,186.4 262.3,184.7 265.1,176.4 266.9,184.0 268.6,175.3 270.7,187.2 272.2,177.8 273.8,185.8 276.4,178.6 278.6,178.4 281.0,163.9 283.5,170.2" fill="none" stroke="#7e1e0e" stroke-width="1.0" opacity="0.4"/>
<polyline points="283.5,170.2 286.1,160.3 288.5,167.1 290.3,156.9 292.3,160.4 294.5,151.0 296.8,151.2 299.1,137.7 301.2,144.7 303.7,132.0 305.5,141.7 307.3,133.7 309.1,141.6 311.7,132.4 313.4,142.1 316.0,133.0 318.7,139.1 320.5,128.4 322.0,136.9 324.6,130.5 327.1,138.0 329.7,129.3 331.9,136.7 334.6,133.0 336.2,142.9 338.5,134.4 341.1,145.0 343.3,141.8 345.2,147.8 347.4,144.8 349.8,157.9 351.4,151.4 353.1,163.2 355.8,161.0 358.3,170.2 360.9,164.7 362.8,177.7 364.5,170.7 366.7,178.4" fill="none" stroke="#7e1e0e" stroke-width="1.0" opacity="0.85"/>
<polyline points="366.7,178.4 368.9,177.3 371.6,186.1 374.2,179.2 376.9,193.0 379.4,186.7 381.7,198.8 383.4,189.2 385.8,203.5 387.5,195.7 389.6,205.0 392.2,199.9 394.7,203.4 396.3,195.6" fill="none" stroke="#7e1e0e" stroke-width="1.0" opacity="0.4"/>
<polyline points="396.3,195.6 397.9,199.6 399.4,190.8 400.8,199.1 403.5,188.6 405.9,197.7 407.3,185.4 408.9,201.0 411.0,185.8 412.4,197.5 414.3,184.7 416.3,197.6 418.2,187.6 419.8,197.7 421.3,191.0 424.0,200.1 426.0,188.4 428.5,198.7 430.9,186.0 432.8,197.1 434.5,183.8 436.2,192.1 438.8,181.9 441.3,189.8 444.0,181.9 446.4,190.9 448.7,186.8 450.5,193.3 452.4,189.2 454.9,195.5 456.7,194.1 458.5,201.5 461.1,202.9 463.2,212.0 465.6,209.8 467.3,218.8 470.0,217.2 472.1,225.8" fill="none" stroke="#7e1e0e" stroke-width="1.0" opacity="0.65"/>
<polyline points="472.1,225.8 474.9,226.7 477.4,234.0 480.1,230.5 482.2,233.6 484.4,228.9 486.3,235.4 488.4,230.9 490.9,236.6 492.8,232.0" fill="none" stroke="#7e1e0e" stroke-width="1.0" opacity="0.4"/>
<path d="M46.0,231.2V217.6L48.4,229.1ZM48.6,231.2V217.4L50.2,229.1ZM53.1,231.2V217.3L55.0,229.1ZM55.5,231.2V218.5L56.9,229.1ZM57.8,231.2V217.9L59.6,229.1ZM61.2,231.2V217.5L63.5,228.8ZM87.7,223.7V211.7L89.7,222.1ZM90.4,223.7V212.4L92.3,222.1ZM92.6,223.7V214.2L93.9,222.1ZM95.4,223.7V211.4L96.8,222.1ZM98.0,223.7V212.6L99.9,222.1ZM99.9,223.7V211.1L101.3,222.1ZM102.0,223.7V214.2L103.2,222.1ZM107.2,223.7V212.3L108.6,222.1ZM110.5,223.7V212.1L112.5,222.1ZM113.5,225.3V216.2L115.5,226.6ZM115.7,228.2V217.5L117.0,227.1ZM121.2,228.2V219.3L123.4,227.1ZM123.2,228.2V218.5L125.0,227.1ZM126.0,228.2V216.8L127.8,227.1ZM128.3,228.1V220.8L130.7,226.2ZM131.6,226.7V216.5L132.9,224.6ZM140.1,222.4V208.8L142.5,220.4ZM142.7,221.6V212.7L145.0,219.5ZM144.4,221.0V208.2L145.8,217.8ZM146.7,217.2V208.6L148.4,212.4ZM149.1,212.3V199.3L151.4,205.8ZM152.4,204.7V191.8L154.5,199.0ZM155.6,198.7V187.2L157.6,195.7ZM160.3,196.5V185.9L162.6,195.7ZM166.1,198.1V180.0L167.4,197.7ZM167.9,199.1V184.5L169.1,198.7ZM171.1,202.0V192.7L172.5,202.6ZM173.7,205.5V196.2L176.0,206.9ZM176.8,209.3V198.5L178.7,209.9ZM183.7,221.3V209.6L185.1,219.8ZM186.8,221.5V207.6L188.7,220.7ZM193.0,220.8V206.3L194.9,218.3ZM195.6,219.6V207.5L197.7,217.0ZM198.1,218.5V202.7L199.7,216.0ZM201.1,217.3V201.6L202.6,215.1ZM203.9,216.6V202.5L205.2,214.5ZM205.9,216.1V201.4L208.1,213.8ZM208.3,215.5V202.8L210.1,213.3ZM210.4,214.9V200.3L212.7,212.9ZM212.3,214.5V200.5L214.0,213.0ZM215.1,214.8V201.3L217.4,213.3ZM217.0,214.9V203.0L218.3,213.4ZM219.2,215.1V200.0L221.1,213.4ZM222.8,215.0V201.3L224.7,213.2ZM225.6,214.8V199.5L226.9,213.2ZM228.7,214.2V202.7L230.9,211.5ZM230.3,213.3V197.0L231.9,210.9ZM232.1,212.2V196.4L234.0,210.1ZM235.3,210.8V195.4L236.9,208.5ZM237.0,210.0V198.2L238.4,207.7ZM241.0,207.7V193.1L242.8,204.6ZM248.3,200.9V189.1L250.7,198.1ZM251.2,199.9V184.5L253.0,197.7ZM258.2,196.7V181.1L260.3,190.6ZM260.2,192.5V176.8L261.5,186.7ZM262.4,186.0V171.6L264.8,182.8ZM264.5,184.4V170.9L266.2,182.9ZM266.6,184.8V173.3L268.3,183.2ZM268.5,185.1V170.9L269.8,183.3ZM270.5,185.2V166.7L272.2,182.4ZM273.3,184.2V164.5L275.5,181.5ZM276.8,182.2V163.4L279.0,177.5ZM279.0,179.0V163.9L281.3,171.6ZM283.2,170.9V155.2L285.1,167.2ZM285.3,169.5V153.8L286.7,166.1ZM287.9,167.2V152.3L289.6,163.4ZM292.6,161.2V145.7L294.7,155.1ZM295.0,156.4V141.6L297.1,148.9ZM298.3,149.0V132.8L300.6,144.0ZM303.3,145.0V125.5L305.2,141.5ZM306.1,144.2V127.8L307.3,140.8ZM309.5,143.6V125.8L311.2,140.4ZM312.8,142.6V127.1L314.8,138.4ZM319.4,137.5V122.1L320.9,133.9ZM322.4,135.4V122.3L324.6,133.7ZM325.8,136.3V122.7L327.8,134.6ZM330.0,137.4V127.1L331.5,135.7ZM332.6,138.0V127.2L334.3,137.1ZM334.2,139.0V128.4L335.6,138.1ZM336.6,140.6V129.1L338.3,139.9ZM338.4,141.8V130.7L340.2,141.3ZM341.9,144.9V133.7L343.2,144.3ZM343.8,146.7V136.5L345.2,146.6ZM348.4,154.8V141.8L349.9,156.0ZM351.7,160.5V147.5L353.0,160.2ZM353.3,162.7V148.6L354.6,162.6ZM355.8,166.2V153.5L357.4,166.4ZM362.4,174.6V159.5L364.5,175.2ZM364.5,177.3V165.3L365.8,176.9ZM366.9,180.4V168.0L368.2,180.0ZM369.1,183.3V168.3L371.4,183.8ZM372.4,186.8V172.0L373.9,186.3ZM375.2,189.6V177.1L377.0,189.6ZM377.3,192.0V179.2L379.4,192.2ZM379.3,194.1V180.3L381.5,194.4ZM382.1,197.1V182.9L383.7,196.5ZM385.1,200.0V187.4L387.5,200.8ZM386.7,202.0V188.4L388.3,201.8ZM389.4,205.2V192.1L391.6,205.3ZM392.5,208.4V195.5L393.8,204.5ZM395.1,202.4V184.9L396.6,199.2ZM401.0,200.7V185.8L403.0,197.4ZM402.7,200.2V183.3L403.9,197.1ZM404.6,199.6V183.7L406.8,195.7ZM407.8,197.9V184.2L409.6,194.2ZM409.8,196.8V180.3L411.3,193.7ZM412.2,196.1V179.7L413.4,193.1ZM414.9,195.3V181.8L416.3,193.1ZM417.2,195.9V180.3L419.6,194.1ZM420.1,196.8V180.0L422.5,195.5ZM422.6,198.2V182.0L423.9,196.2ZM425.5,199.2V182.3L427.4,195.3ZM428.9,197.2V177.7L431.2,193.1ZM432.0,195.4V175.6L434.3,191.3ZM435.7,193.5V176.7L437.8,190.3ZM438.0,192.8V177.3L439.3,189.8ZM439.8,192.3V172.9L441.6,189.5ZM445.6,192.5V173.0L446.9,190.4ZM448.2,194.1V178.8L449.7,192.2ZM451.1,195.7V178.4L453.2,193.9ZM453.8,196.9V183.5L456.1,195.5ZM456.5,198.9V183.9L458.3,200.3ZM458.2,202.4V191.3L460.1,204.1ZM460.2,206.4V194.3L462.3,207.6ZM463.1,210.6V199.3L465.2,212.0ZM464.8,213.1V199.7L466.8,214.7ZM466.5,216.0V202.5L468.6,218.0ZM472.4,226.3V210.0L473.8,227.1ZM474.2,229.5V218.5L476.1,230.3ZM476.8,232.9V220.3L478.6,232.6ZM479.8,234.4V223.1L481.9,233.0ZM481.6,234.5V223.9L483.1,233.2ZM484.0,234.8V225.9L485.3,233.5ZM486.2,234.9V224.6L488.5,233.6ZM489.5,234.9V224.0L491.3,233.6ZM492.3,234.9V224.8L494.5,233.7Z" fill="#d20000" opacity="0.55"/>
<path d="M46.0,231.2V217.6L48.4,229.1M48.6,231.2V217.4L50.2,229.1M53.1,231.2V217.3L55.0,229.1M55.5,231.2V218.5L56.9,229.1M57.8,231.2V217.9L59.6,229.1M61.2,231.2V217.5L63.5,228.8M87.7,223.7V211.7L89.7,222.1M90.4,223.7V212.4L92.3,222.1M92.6,223.7V214.2L93.9,222.1M95.4,223.7V211.4L96.8,222.1M98.0,223.7V212.6L99.9,222.1M99.9,223.7V211.1L101.3,222.1M102.0,223.7V214.2L103.2,222.1M107.2,223.7V212.3L108.6,222.1M110.5,223.7V212.1L112.5,222.1M113.5,225.3V216.2L115.5,226.6M115.7,228.2V217.5L117.0,227.1M121.2,228.2V219.3L123.4,227.1M123.2,228.2V218.5L125.0,227.1M126.0,228.2V216.8L127.8,227.1M128.3,228.1V220.8L130.7,226.2M131.6,226.7V216.5L132.9,224.6M140.1,222.4V208.8L142.5,220.4M142.7,221.6V212.7L145.0,219.5M144.4,221.0V208.2L145.8,217.8M146.7,217.2V208.6L148.4,212.4M149.1,212.3V199.3L151.4,205.8M152.4,204.7V191.8L154.5,199.0M155.6,198.7V187.2L157.6,195.7M160.3,196.5V185.9L162.6,195.7M166.1,198.1V180.0L167.4,197.7M167.9,199.1V184.5L169.1,198.7M171.1,202.0V192.7L172.5,202.6M173.7,205.5V196.2L176.0,206.9M176.8,209.3V198.5L178.7,209.9M183.7,221.3V209.6L185.1,219.8M186.8,221.5V207.6L188.7,220.7M193.0,220.8V206.3L194.9,218.3M195.6,219.6V207.5L197.7,217.0M198.1,218.5V202.7L199.7,216.0M201.1,217.3V201.6L202.6,215.1M203.9,216.6V202.5L205.2,214.5M205.9,216.1V201.4L208.1,213.8M208.3,215.5V202.8L210.1,213.3M210.4,214.9V200.3L212.7,212.9M212.3,214.5V200.5L214.0,213.0M215.1,214.8V201.3L217.4,213.3M217.0,214.9V203.0L218.3,213.4M219.2,215.1V200.0L221.1,213.4M222.8,215.0V201.3L224.7,213.2M225.6,214.8V199.5L226.9,213.2M228.7,214.2V202.7L230.9,211.5M230.3,213.3V197.0L231.9,210.9M232.1,212.2V196.4L234.0,210.1M235.3,210.8V195.4L236.9,208.5M237.0,210.0V198.2L238.4,207.7M241.0,207.7V193.1L242.8,204.6M248.3,200.9V189.1L250.7,198.1M251.2,199.9V184.5L253.0,197.7M258.2,196.7V181.1L260.3,190.6M260.2,192.5V176.8L261.5,186.7M262.4,186.0V171.6L264.8,182.8M264.5,184.4V170.9L266.2,182.9M266.6,184.8V173.3L268.3,183.2M268.5,185.1V170.9L269.8,183.3M270.5,185.2V166.7L272.2,182.4M273.3,184.2V164.5L275.5,181.5M276.8,182.2V163.4L279.0,177.5M279.0,179.0V163.9L281.3,171.6M283.2,170.9V155.2L285.1,167.2M285.3,169.5V153.8L286.7,166.1M287.9,167.2V152.3L289.6,163.4M292.6,161.2V145.7L294.7,155.1M295.0,156.4V141.6L297.1,148.9M298.3,149.0V132.8L300.6,144.0M303.3,145.0V125.5L305.2,141.5M306.1,144.2V127.8L307.3,140.8M309.5,143.6V125.8L311.2,140.4M312.8,142.6V127.1L314.8,138.4M319.4,137.5V122.1L320.9,133.9M322.4,135.4V122.3L324.6,133.7M325.8,136.3V122.7L327.8,134.6M330.0,137.4V127.1L331.5,135.7M332.6,138.0V127.2L334.3,137.1M334.2,139.0V128.4L335.6,138.1M336.6,140.6V129.1L338.3,139.9M338.4,141.8V130.7L340.2,141.3M341.9,144.9V133.7L343.2,144.3M343.8,146.7V136.5L345.2,146.6M348.4,154.8V141.8L349.9,156.0M351.7,160.5V147.5L353.0,160.2M353.3,162.7V148.6L354.6,162.6M355.8,166.2V153.5L357.4,166.4M362.4,174.6V159.5L364.5,175.2M364.5,177.3V165.3L365.8,176.9M366.9,180.4V168.0L368.2,180.0M369.1,183.3V168.3L371.4,183.8M372.4,186.8V172.0L373.9,186.3M375.2,189.6V177.1L377.0,189.6M377.3,192.0V179.2L379.4,192.2M379.3,194.1V180.3L381.5,194.4M382.1,197.1V182.9L383.7,196.5M385.1,200.0V187.4L387.5,200.8M386.7,202.0V188.4L388.3,201.8M389.4,205.2V192.1L391.6,205.3M392.5,208.4V195.5L393.8,204.5M395.1,202.4V184.9L396.6,199.2M401.0,200.7V185.8L403.0,197.4M402.7,200.2V183.3L403.9,197.1M404.6,199.6V183.7L406.8,195.7M407.8,197.9V184.2L409.6,194.2M409.8,196.8V180.3L411.3,193.7M412.2,196.1V179.7L413.4,193.1M414.9,195.3V181.8L416.3,193.1M417.2,195.9V180.3L419.6,194.1M420.1,196.8V180.0L422.5,195.5M422.6,198.2V182.0L423.9,196.2M425.5,199.2V182.3L427.4,195.3M428.9,197.2V177.7L431.2,193.1M432.0,195.4V175.6L434.3,191.3M435.7,193.5V176.7L437.8,190.3M438.0,192.8V177.3L439.3,189.8M439.8,192.3V172.9L441.6,189.5M445.6,192.5V173.0L446.9,190.4M448.2,194.1V178.8L449.7,192.2M451.1,195.7V178.4L453.2,193.9M453.8,196.9V183.5L456.1,195.5M456.5,198.9V183.9L458.3,200.3M458.2,202.4V191.3L460.1,204.1M460.2,206.4V194.3L462.3,207.6M463.1,210.6V199.3L465.2,212.0M464.8,213.1V199.7L466.8,214.7M466.5,216.0V202.5L468.6,218.0M472.4,226.3V210.0L473.8,227.1M474.2,229.5V218.5L476.1,230.3M476.8,232.9V220.3L478.6,232.6M479.8,234.4V223.1L481.9,233.0M481.6,234.5V223.9L483.1,233.2M484.0,234.8V225.9L485.3,233.5M486.2,234.9V224.6L488.5,233.6M489.5,234.9V224.0L491.3,233.6M492.3,234.9V224.8L494.5,233.7" stroke="#8a2414" stroke-width="1.0" fill="none" opacity="0.72" stroke-linejoin="bevel"/>
<line x1="58.6" y1="195.3" x2="58.6" y2="226" stroke="#c08878" stroke-width="1.4"/>
<line x1="57.3" y1="208" x2="57.3" y2="224" stroke="#c89888" stroke-width="0.9"/>
<line x1="63.4" y1="158" x2="63.4" y2="172" stroke="#7e1e0e" stroke-width="1"/>
<polygon points="63.5,170 64.4,169.8 65.4,171.5 66.2,171 67.1,172 68.9,178.6 69.5,196 70.6,220 70.2,233 63.5,233" fill="#d20000"/>
<polygon points="70.6,220 73,207.5 74,203 77,200.6 77.7,197 78.3,199 77.8,233 70.2,233" fill="#d20000" opacity="0.55"/>
<polyline points="70.4,222 72.4,201 74,233 75.6,204 76.6,232 77.8,198" fill="none" stroke="#a01808" stroke-width="1.3" opacity="0.9"/>
<polygon points="68.5,233 70.6,222 72,233" fill="#e85858"/>
<polyline points="63.5,172 64.4,169.8 65.2,174 65.9,171.2 67,172.2 68,176 68.9,180" fill="none" stroke="#7e1e0e" stroke-width="1" opacity="0.8"/>
<polyline points="73.5,207 74.5,203 76,202 77,200.6" fill="none" stroke="#7e1e0e" stroke-width="0.9" opacity="0.6"/>
<polyline points="77.4,205 78.9,174.5 80.7,184.5 83,197 85.3,211 87.3,224" fill="none" stroke="#7e1e0e" stroke-width="1.3"/>
<line x1="87.2" y1="222" x2="87.2" y2="231.5" stroke="#7e1e0e" stroke-width="0.8"/>
<rect x="495" y="150" width="25.5" height="86" fill="#fde4f3"/>
<rect x="500" y="118" width="12" height="10" fill="#fde4f3"/>
<line x1="495.60" y1="117.9" x2="495.60" y2="204.7" stroke="#8a2010" stroke-width="0.9"/>
<line x1="496.15" y1="117.5" x2="496.15" y2="203.6" stroke="#d20000" stroke-width="0.9"/>
<line x1="496.70" y1="118.6" x2="496.70" y2="202.1" stroke="#d20000" stroke-width="0.9"/>
<line x1="497.25" y1="117.7" x2="497.25" y2="204.1" stroke="#b00000" stroke-width="0.9"/>
<line x1="497.80" y1="121.0" x2="497.80" y2="202.5" stroke="#d20000" stroke-width="0.9"/>
<line x1="498.35" y1="120.8" x2="498.35" y2="202.1" stroke="#d20000" stroke-width="0.9"/>
<line x1="498.90" y1="121.1" x2="498.90" y2="203.9" stroke="#d20000" stroke-width="0.9"/>
<line x1="499.45" y1="120.3" x2="499.45" y2="202.1" stroke="#d20000" stroke-width="0.9"/>
<line x1="500.00" y1="117.6" x2="500.00" y2="202.4" stroke="#d20000" stroke-width="0.9"/>
<line x1="500.55" y1="116.5" x2="500.55" y2="203.2" stroke="#b00000" stroke-width="0.9"/>
<line x1="501.10" y1="116.5" x2="501.10" y2="202.5" stroke="#b00000" stroke-width="0.9"/>
<line x1="501.65" y1="117.9" x2="501.65" y2="204.3" stroke="#8a2010" stroke-width="0.9"/>
<line x1="502.20" y1="120.6" x2="502.20" y2="202.0" stroke="#b00000" stroke-width="0.9"/>
<line x1="502.75" y1="122.3" x2="502.75" y2="203.4" stroke="#b00000" stroke-width="0.9"/>
<line x1="503.30" y1="126.4" x2="503.30" y2="214.7" stroke="#d20000" stroke-width="0.9"/>
<line x1="503.85" y1="126.4" x2="503.85" y2="213.0" stroke="#d20000" stroke-width="0.9"/>
<line x1="504.40" y1="126.1" x2="504.40" y2="233.2" stroke="#d20000" stroke-width="0.9"/>
<line x1="504.95" y1="150.6" x2="504.95" y2="235.3" stroke="#b00000" stroke-width="0.9"/>
<line x1="505.50" y1="150.2" x2="505.50" y2="233.0" stroke="#b00000" stroke-width="0.9"/>
<line x1="506.05" y1="152.5" x2="506.05" y2="235.2" stroke="#b00000" stroke-width="0.9"/>
<line x1="506.60" y1="150.2" x2="506.60" y2="235.2" stroke="#b00000" stroke-width="0.9"/>
<line x1="507.15" y1="126.7" x2="507.15" y2="233.3" stroke="#8a2010" stroke-width="0.9"/>
<line x1="507.70" y1="127.5" x2="507.70" y2="234.2" stroke="#b00000" stroke-width="0.9"/>
<line x1="508.25" y1="127.9" x2="508.25" y2="232.5" stroke="#b00000" stroke-width="0.9"/>
<line x1="508.80" y1="127.4" x2="508.80" y2="235.4" stroke="#b00000" stroke-width="0.9"/>
<line x1="509.35" y1="128.2" x2="509.35" y2="235.1" stroke="#b00000" stroke-width="0.9"/>
<line x1="509.90" y1="127.0" x2="509.90" y2="234.2" stroke="#d20000" stroke-width="0.9"/>
<line x1="510.45" y1="126.5" x2="510.45" y2="234.1" stroke="#b00000" stroke-width="0.9"/>
<line x1="511.00" y1="149.8" x2="511.00" y2="232.9" stroke="#8a2010" stroke-width="0.9"/>
<line x1="511.55" y1="149.9" x2="511.55" y2="234.8" stroke="#b00000" stroke-width="0.9"/>
<line x1="512.10" y1="149.8" x2="512.10" y2="235.2" stroke="#d20000" stroke-width="0.9"/>
<line x1="512.65" y1="150.3" x2="512.65" y2="235.0" stroke="#b00000" stroke-width="0.9"/>
<line x1="513.20" y1="150.4" x2="513.20" y2="234.2" stroke="#d20000" stroke-width="0.9"/>
<line x1="513.75" y1="148.2" x2="513.75" y2="235.3" stroke="#b00000" stroke-width="0.9"/>
<line x1="514.30" y1="149.6" x2="514.30" y2="234.7" stroke="#d20000" stroke-width="0.9"/>
<line x1="514.85" y1="148.2" x2="514.85" y2="233.2" stroke="#d20000" stroke-width="0.9"/>
<line x1="515.40" y1="148.1" x2="515.40" y2="233.0" stroke="#d20000" stroke-width="0.9"/>
<line x1="515.95" y1="148.4" x2="515.95" y2="233.8" stroke="#d20000" stroke-width="0.9"/>
<line x1="516.50" y1="149.3" x2="516.50" y2="234.1" stroke="#d20000" stroke-width="0.9"/>
<line x1="517.05" y1="133.2" x2="517.05" y2="234.0" stroke="#8a2010" stroke-width="0.9"/>
<line x1="517.60" y1="133.0" x2="517.60" y2="234.2" stroke="#d20000" stroke-width="0.9"/>
<line x1="518.15" y1="133.6" x2="518.15" y2="234.5" stroke="#b00000" stroke-width="0.9"/>
<line x1="518.70" y1="134.8" x2="518.70" y2="235.0" stroke="#d20000" stroke-width="0.9"/>
<line x1="519.25" y1="135.0" x2="519.25" y2="235.5" stroke="#b00000" stroke-width="0.9"/>
<line x1="519.80" y1="141.9" x2="519.80" y2="234.0" stroke="#f08888" stroke-width="0.9"/>
<line x1="520.35" y1="141.6" x2="520.35" y2="235.3" stroke="#f08888" stroke-width="0.9"/>
<rect x="504.8" y="148" width="2.2" height="12" fill="#f07a7a"/>
<rect x="509.9" y="146" width="1.4" height="60" fill="#f07a7a" opacity="0.8"/>
<rect x="512.7" y="148" width="2.8" height="14" fill="#f07a7a" opacity="0.6"/>
<rect x="517.3" y="190" width="0.9" height="46" fill="#f07a7a" opacity="0.8"/>
<polyline points="496.2,121 496.6,116.4 497.2,118 498,121 499.5,120 500.6,116.6 501.4,117 502.6,122" fill="none" stroke="#7e1e0e" stroke-width="1" opacity="0.7"/>
<rect x="507" y="126.3" width="4" height="9" fill="#8a2414" opacity="0.6"/>
<rect x="516.6" y="132.5" width="2.8" height="8" fill="#8a2414" opacity="0.6"/>
<rect x="509" y="200" width="8" height="36" fill="#a00000" opacity="0.5"/>
<line x1="496.4" y1="205" x2="496.4" y2="235" stroke="#d20000" stroke-width="0.9"/>
<line x1="501.3" y1="205" x2="501.3" y2="235" stroke="#d20000" stroke-width="1.2"/>
<line x1="498.5" y1="205" x2="498.5" y2="212" stroke="#8a2414" stroke-width="1"/>
<line x1="494" y1="209.7" x2="494" y2="233" stroke="#8a2414" stroke-width="1.3" opacity="0.85"/>
<line x1="490.5" y1="205.4" x2="490.5" y2="233" stroke="#8a2414" stroke-width="1.3" opacity="0.85"/>
<line x1="487.4" y1="205.4" x2="487.4" y2="233" stroke="#8a2414" stroke-width="1.3" opacity="0.85"/>
<line x1="482.5" y1="206.9" x2="482.5" y2="233" stroke="#8a2414" stroke-width="1.3" opacity="0.85"/>
<line x1="472.6" y1="208" x2="472.6" y2="226" stroke="#8a2414" stroke-width="1.3" opacity="0.85"/>
<line x1="465.6" y1="190" x2="465.6" y2="212" stroke="#8a2414" stroke-width="1.3" opacity="0.85"/></g>
<rect x="46" y="5" width="478" height="231" fill="none" stroke="#787878" stroke-width="1.5"/>
<line x1="44" y1="224.6" x2="46" y2="224.6" stroke="#787878" stroke-width="1"/>
<line x1="520.8" y1="224.6" x2="524" y2="224.6" stroke="#787878" stroke-width="1"/>
<text x="42.3" y="226.8" text-anchor="end" class="al">250</text>
<line x1="44" y1="213.1" x2="46" y2="213.1" stroke="#787878" stroke-width="1"/>
<line x1="520.8" y1="213.1" x2="524" y2="213.1" stroke="#787878" stroke-width="1"/>
<text x="42.3" y="215.3" text-anchor="end" class="al">500</text>
<line x1="44" y1="201.5" x2="46" y2="201.5" stroke="#787878" stroke-width="1"/>
<line x1="520.8" y1="201.5" x2="524" y2="201.5" stroke="#787878" stroke-width="1"/>
<text x="42.3" y="203.7" text-anchor="end" class="al">750</text>
<line x1="44" y1="190.0" x2="46" y2="190.0" stroke="#787878" stroke-width="1"/>
<line x1="520.8" y1="190.0" x2="524" y2="190.0" stroke="#787878" stroke-width="1"/>
<text x="42.3" y="192.2" text-anchor="end" class="al">1000</text>
<line x1="44" y1="178.4" x2="46" y2="178.4" stroke="#787878" stroke-width="1"/>
<line x1="520.8" y1="178.4" x2="524" y2="178.4" stroke="#787878" stroke-width="1"/>
<text x="42.3" y="180.6" text-anchor="end" class="al">1250</text>
<line x1="44" y1="166.8" x2="46" y2="166.8" stroke="#787878" stroke-width="1"/>
<line x1="520.8" y1="166.8" x2="524" y2="166.8" stroke="#787878" stroke-width="1"/>
<text x="42.3" y="169.0" text-anchor="end" class="al">1500</text>
<line x1="44" y1="155.3" x2="46" y2="155.3" stroke="#787878" stroke-width="1"/>
<line x1="520.8" y1="155.3" x2="524" y2="155.3" stroke="#787878" stroke-width="1"/>
<text x="42.3" y="157.5" text-anchor="end" class="al">1750</text>
<line x1="44" y1="143.7" x2="46" y2="143.7" stroke="#787878" stroke-width="1"/>
<line x1="520.8" y1="143.7" x2="524" y2="143.7" stroke="#787878" stroke-width="1"/>
<text x="42.3" y="145.9" text-anchor="end" class="al">2000</text>
<line x1="44" y1="132.2" x2="46" y2="132.2" stroke="#787878" stroke-width="1"/>
<line x1="520.8" y1="132.2" x2="524" y2="132.2" stroke="#787878" stroke-width="1"/>
<text x="42.3" y="134.4" text-anchor="end" class="al">2250</text>
<line x1="44" y1="120.6" x2="46" y2="120.6" stroke="#787878" stroke-width="1"/>
<line x1="520.8" y1="120.6" x2="524" y2="120.6" stroke="#787878" stroke-width="1"/>
<text x="42.3" y="122.8" text-anchor="end" class="al">2500</text>
<line x1="44" y1="109.0" x2="46" y2="109.0" stroke="#787878" stroke-width="1"/>
<line x1="520.8" y1="109.0" x2="524" y2="109.0" stroke="#787878" stroke-width="1"/>
<text x="42.3" y="111.2" text-anchor="end" class="al">2750</text>
<line x1="44" y1="97.5" x2="46" y2="97.5" stroke="#787878" stroke-width="1"/>
<line x1="520.8" y1="97.5" x2="524" y2="97.5" stroke="#787878" stroke-width="1"/>
<text x="42.3" y="99.7" text-anchor="end" class="al">3000</text>
<line x1="44" y1="85.9" x2="46" y2="85.9" stroke="#787878" stroke-width="1"/>
<line x1="520.8" y1="85.9" x2="524" y2="85.9" stroke="#787878" stroke-width="1"/>
<text x="42.3" y="88.1" text-anchor="end" class="al">3250</text>
<line x1="44" y1="74.4" x2="46" y2="74.4" stroke="#787878" stroke-width="1"/>
<line x1="520.8" y1="74.4" x2="524" y2="74.4" stroke="#787878" stroke-width="1"/>
<text x="42.3" y="76.6" text-anchor="end" class="al">3500</text>
<line x1="44" y1="62.8" x2="46" y2="62.8" stroke="#787878" stroke-width="1"/>
<line x1="520.8" y1="62.8" x2="524" y2="62.8" stroke="#787878" stroke-width="1"/>
<text x="42.3" y="65.0" text-anchor="end" class="al">3750</text>
<line x1="44" y1="51.2" x2="46" y2="51.2" stroke="#787878" stroke-width="1"/>
<line x1="520.8" y1="51.2" x2="524" y2="51.2" stroke="#787878" stroke-width="1"/>
<text x="42.3" y="53.4" text-anchor="end" class="al">4000</text>
<line x1="44" y1="39.7" x2="46" y2="39.7" stroke="#787878" stroke-width="1"/>
<line x1="520.8" y1="39.7" x2="524" y2="39.7" stroke="#787878" stroke-width="1"/>
<text x="42.3" y="41.9" text-anchor="end" class="al">4250</text>
<line x1="44" y1="28.1" x2="46" y2="28.1" stroke="#787878" stroke-width="1"/>
<line x1="520.8" y1="28.1" x2="524" y2="28.1" stroke="#787878" stroke-width="1"/>
<text x="42.3" y="30.3" text-anchor="end" class="al">4500</text>
<line x1="44" y1="16.6" x2="46" y2="16.6" stroke="#787878" stroke-width="1"/>
<line x1="520.8" y1="16.6" x2="524" y2="16.6" stroke="#787878" stroke-width="1"/>
<text x="42.3" y="18.8" text-anchor="end" class="al">4750</text>
<line x1="44" y1="5.0" x2="46" y2="5.0" stroke="#787878" stroke-width="1"/>
<line x1="520.8" y1="5.0" x2="524" y2="5.0" stroke="#787878" stroke-width="1"/>
<text x="42.3" y="7.2" text-anchor="end" class="al">5000</text>
<line x1="45.8" y1="236" x2="45.8" y2="238" stroke="#787878" stroke-width="1"/>
<line x1="45.8" y1="5" x2="45.8" y2="7" stroke="#787878" stroke-width="1"/>
<text x="45.8" y="243.8" text-anchor="middle" class="al">0</text>
<line x1="63.9" y1="236" x2="63.9" y2="238" stroke="#787878" stroke-width="1"/>
<line x1="63.9" y1="5" x2="63.9" y2="7" stroke="#787878" stroke-width="1"/>
<text x="63.9" y="243.8" text-anchor="middle" class="al">10</text>
<line x1="81.9" y1="236" x2="81.9" y2="238" stroke="#787878" stroke-width="1"/>
<line x1="81.9" y1="5" x2="81.9" y2="7" stroke="#787878" stroke-width="1"/>
<text x="81.9" y="243.8" text-anchor="middle" class="al">20</text>
<line x1="100.0" y1="236" x2="100.0" y2="238" stroke="#787878" stroke-width="1"/>
<line x1="100.0" y1="5" x2="100.0" y2="7" stroke="#787878" stroke-width="1"/>
<text x="100.0" y="243.8" text-anchor="middle" class="al">30</text>
<line x1="118.1" y1="236" x2="118.1" y2="238" stroke="#787878" stroke-width="1"/>
<line x1="118.1" y1="5" x2="118.1" y2="7" stroke="#787878" stroke-width="1"/>
<text x="118.1" y="243.8" text-anchor="middle" class="al">40</text>
<line x1="136.1" y1="236" x2="136.1" y2="238" stroke="#787878" stroke-width="1"/>
<line x1="136.1" y1="5" x2="136.1" y2="7" stroke="#787878" stroke-width="1"/>
<text x="136.1" y="243.8" text-anchor="middle" class="al">50</text>
<line x1="154.2" y1="236" x2="154.2" y2="238" stroke="#787878" stroke-width="1"/>
<line x1="154.2" y1="5" x2="154.2" y2="7" stroke="#787878" stroke-width="1"/>
<text x="154.2" y="243.8" text-anchor="middle" class="al">60</text>
<line x1="172.3" y1="236" x2="172.3" y2="238" stroke="#787878" stroke-width="1"/>
<line x1="172.3" y1="5" x2="172.3" y2="7" stroke="#787878" stroke-width="1"/>
<text x="172.3" y="243.8" text-anchor="middle" class="al">70</text>
<line x1="190.4" y1="236" x2="190.4" y2="238" stroke="#787878" stroke-width="1"/>
<line x1="190.4" y1="5" x2="190.4" y2="7" stroke="#787878" stroke-width="1"/>
<text x="190.4" y="243.8" text-anchor="middle" class="al">80</text>
<line x1="208.4" y1="236" x2="208.4" y2="238" stroke="#787878" stroke-width="1"/>
<line x1="208.4" y1="5" x2="208.4" y2="7" stroke="#787878" stroke-width="1"/>
<text x="208.4" y="243.8" text-anchor="middle" class="al">90</text>
<line x1="226.5" y1="236" x2="226.5" y2="238" stroke="#787878" stroke-width="1"/>
<line x1="226.5" y1="5" x2="226.5" y2="7" stroke="#787878" stroke-width="1"/>
<text x="226.5" y="243.8" text-anchor="middle" class="al">100</text>
<line x1="244.6" y1="236" x2="244.6" y2="238" stroke="#787878" stroke-width="1"/>
<line x1="244.6" y1="5" x2="244.6" y2="7" stroke="#787878" stroke-width="1"/>
<text x="244.6" y="243.8" text-anchor="middle" class="al">110</text>
<line x1="262.6" y1="236" x2="262.6" y2="238" stroke="#787878" stroke-width="1"/>
<line x1="262.6" y1="5" x2="262.6" y2="7" stroke="#787878" stroke-width="1"/>
<text x="262.6" y="243.8" text-anchor="middle" class="al">120</text>
<line x1="280.7" y1="236" x2="280.7" y2="238" stroke="#787878" stroke-width="1"/>
<line x1="280.7" y1="5" x2="280.7" y2="7" stroke="#787878" stroke-width="1"/>
<text x="280.7" y="243.8" text-anchor="middle" class="al">130</text>
<line x1="298.8" y1="236" x2="298.8" y2="238" stroke="#787878" stroke-width="1"/>
<line x1="298.8" y1="5" x2="298.8" y2="7" stroke="#787878" stroke-width="1"/>
<text x="298.8" y="243.8" text-anchor="middle" class="al">140</text>
<line x1="316.9" y1="236" x2="316.9" y2="238" stroke="#787878" stroke-width="1"/>
<line x1="316.9" y1="5" x2="316.9" y2="7" stroke="#787878" stroke-width="1"/>
<text x="316.9" y="243.8" text-anchor="middle" class="al">150</text>
<line x1="334.9" y1="236" x2="334.9" y2="238" stroke="#787878" stroke-width="1"/>
<line x1="334.9" y1="5" x2="334.9" y2="7" stroke="#787878" stroke-width="1"/>
<text x="334.9" y="243.8" text-anchor="middle" class="al">160</text>
<line x1="353.0" y1="236" x2="353.0" y2="238" stroke="#787878" stroke-width="1"/>
<line x1="353.0" y1="5" x2="353.0" y2="7" stroke="#787878" stroke-width="1"/>
<text x="353.0" y="243.8" text-anchor="middle" class="al">170</text>
<line x1="371.1" y1="236" x2="371.1" y2="238" stroke="#787878" stroke-width="1"/>
<line x1="371.1" y1="5" x2="371.1" y2="7" stroke="#787878" stroke-width="1"/>
<text x="371.1" y="243.8" text-anchor="middle" class="al">180</text>
<line x1="389.1" y1="236" x2="389.1" y2="238" stroke="#787878" stroke-width="1"/>
<line x1="389.1" y1="5" x2="389.1" y2="7" stroke="#787878" stroke-width="1"/>
<text x="389.1" y="243.8" text-anchor="middle" class="al">190</text>
<line x1="407.2" y1="236" x2="407.2" y2="238" stroke="#787878" stroke-width="1"/>
<line x1="407.2" y1="5" x2="407.2" y2="7" stroke="#787878" stroke-width="1"/>
<text x="407.2" y="243.8" text-anchor="middle" class="al">200</text>
<line x1="425.3" y1="236" x2="425.3" y2="238" stroke="#787878" stroke-width="1"/>
<line x1="425.3" y1="5" x2="425.3" y2="7" stroke="#787878" stroke-width="1"/>
<text x="425.3" y="243.8" text-anchor="middle" class="al">210</text>
<line x1="443.3" y1="236" x2="443.3" y2="238" stroke="#787878" stroke-width="1"/>
<line x1="443.3" y1="5" x2="443.3" y2="7" stroke="#787878" stroke-width="1"/>
<text x="443.3" y="243.8" text-anchor="middle" class="al">220</text>
<line x1="461.4" y1="236" x2="461.4" y2="238" stroke="#787878" stroke-width="1"/>
<line x1="461.4" y1="5" x2="461.4" y2="7" stroke="#787878" stroke-width="1"/>
<text x="461.4" y="243.8" text-anchor="middle" class="al">230</text>
<line x1="479.5" y1="236" x2="479.5" y2="238" stroke="#787878" stroke-width="1"/>
<line x1="479.5" y1="5" x2="479.5" y2="7" stroke="#787878" stroke-width="1"/>
<text x="479.5" y="243.8" text-anchor="middle" class="al">240</text>
<line x1="497.6" y1="236" x2="497.6" y2="238" stroke="#787878" stroke-width="1"/>
<line x1="497.6" y1="5" x2="497.6" y2="7" stroke="#787878" stroke-width="1"/>
<text x="497.6" y="243.8" text-anchor="middle" class="al">250</text>
<line x1="515.6" y1="236" x2="515.6" y2="238" stroke="#787878" stroke-width="1"/>
<line x1="515.6" y1="5" x2="515.6" y2="7" stroke="#787878" stroke-width="1"/>
<text x="515.6" y="243.8" text-anchor="middle" class="al">260</text>
<text transform="translate(278.3,251.4) scale(0.884,1)" text-anchor="middle" class="al" style="font-size:7px;font-weight:bold;fill:#3a3a3a">Time [min]</text>
<text transform="translate(24.6,121) rotate(-90) scale(0.837,1)" text-anchor="middle" class="al" style="fill:#3a3a3a;font-size:6.6px;font-weight:bold">Voltage [mV]</text>
<rect x="466.5" y="5.5" width="56.5" height="8.5" fill="#fff" stroke="#555" stroke-width="1"/>
<line x1="469.5" y1="10" x2="480.5" y2="10" stroke="#c8b8d8" stroke-width="1"/>
<ellipse cx="475" cy="10" rx="2" ry="1" fill="#2a1a9a"/>
<circle cx="46.3" cy="235.4" r="1" fill="#2a2a80"/>
<text x="483.5" y="12" class="al" style="font-size:6.2px;fill:#383838">Absorbance*</text>
<line x1="483.5" y1="12.7" x2="519.6" y2="12.7" stroke="#666" stroke-width="0.6"/>
<text x="77" y="165.8" class="an">T1</text>
<text x="156.6" y="174.4" class="an">T2</text>
<text x="310.5" y="108.6" class="an">T3</text>
<text x="436.8" y="157.2" class="an">T4</text>
<text transform="translate(407.7,131.8) scale(1.078,1)" class="an">Rotation stopped</text>
<path d="M472.5,139.5 L477.5,139.5 L477.5,164 L480,164 L475.2,188.5 L470.3,164 L472.5,164 Z" fill="#fff" stroke="#666" stroke-width="1"/>
</svg>
<div class="cap"><div class="ln">HSCCC conditions: Gradient solvent system: ethyl acetate&ndash;n-butanol&ndash;water (solvent A: 1:1:1,</div><div class="ln">v/v/v, solvent B: 1:0.5:1, v/v/v, solvent C: 1:0.3:1, v/v/v solvent D: 1:0.2:1, v/v/v); stationary phase:</div><div class="ln">lower phase; mobile phase: upper phase; revolution speed: 850 rpm; injection volume: 7.0 mL;</div><div class="ln">detection wavelength: 254 nm; flow rate: 2.0 mL/min; separation temperature: 25 &deg;C; retention of</div><div class="ln lst">the stationary phase: 62.0%.</div></div>
</body></html>
